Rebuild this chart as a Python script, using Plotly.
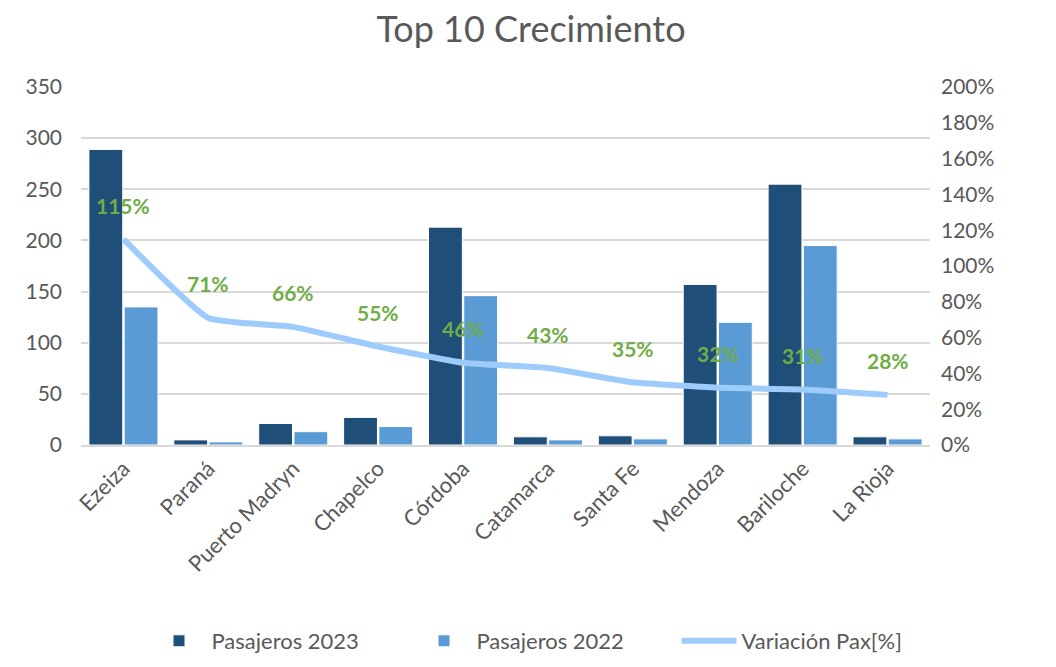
import plotly.graph_objects as go

categories = ["Ezeiza", "Paraná", "Puerto Madryn", "Chapelco", "Córdoba",
              "Catamarca", "Santa Fe", "Mendoza", "Bariloche", "La Rioja"]
pax_2023 = [289, 5, 21, 27, 213, 8, 9, 157, 255, 8]
pax_2022 = [135, 3, 13, 18, 146, 5, 6, 120, 195, 6]
variacion = [1.15, 0.71, 0.66, 0.55, 0.46, 0.43, 0.35, 0.32, 0.31, 0.28]

font_family = "Lato, Open Sans, sans-serif"
gray = "#595959"

# page body has an 8px margin; figure is sized/offset accordingly
OFF = 8
W, H = 1048, 667
L, T = 81 - OFF, 87 - OFF
R = W - (930 - OFF)
B = H - (445 - OFF)
plot_h = H - T - B
plot_w = W - L - R

fig = go.Figure()
fig.add_trace(go.Bar(x=categories, y=pax_2023, name="Pasajeros 2023",
                     marker=dict(color="#1F4E79", line=dict(color="white", width=1))))
fig.add_trace(go.Bar(x=categories, y=pax_2022, name="Pasajeros 2022",
                     marker=dict(color="#5B9BD5", line=dict(color="white", width=1))))
fig.add_trace(go.Scatter(x=categories, y=variacion, name="Variación Pax[%]", yaxis="y2",
                         mode="lines", line=dict(color="#9DCBFC", width=6, shape="spline", smoothing=0.4)))

for c, v in zip(categories, variacion):
    fig.add_annotation(x=c, y=v, yref="y2", text=f"<b>{round(v*100)}%</b>",
                       showarrow=False, yshift=34,
                       font=dict(color="#70AD47", size=21, family=font_family))

fig.update_layout(
    width=W, height=H,
    paper_bgcolor="white", plot_bgcolor="white",
    margin=dict(l=L, r=R, t=T, b=B),
    font=dict(family=font_family, color=gray, size=21),
    title=dict(text="Top 10 Crecimiento", x=(531 - OFF) / W, xanchor="center",
               y=1 - (29 - OFF) / H, yanchor="middle",
               font=dict(size=36, color=gray, family=font_family)),
    barmode="group", bargap=0.17, bargroupgap=0.04,
    xaxis=dict(tickangle=-45, tickfont=dict(size=22, color=gray), showgrid=False,
               showline=True, linecolor="#D9D9D9", linewidth=2, ticks="", automargin=False),
    yaxis=dict(range=[0, 350], dtick=50, gridcolor="#D9D9D9", gridwidth=1.5,
               tickfont=dict(size=21, color=gray), zeroline=False, ticks="",
               ticklabelstandoff=18, automargin=False),
    yaxis2=dict(range=[0, 2.0], dtick=0.2, tickformat=".0%", overlaying="y", side="right",
                showgrid=False, zeroline=False, tickfont=dict(size=21, color=gray),
                ticklabelstandoff=10, automargin=False),
    legend=dict(orientation="h", x=(544 - OFF - L) / plot_w, xanchor="center",
                y=-(641 - 445) / plot_h, yanchor="middle",
                font=dict(size=22, color=gray), traceorder="normal",
                itemwidth=55, entrywidthmode="pixels", entrywidth=195),
)

fig.write_html("out.html")
